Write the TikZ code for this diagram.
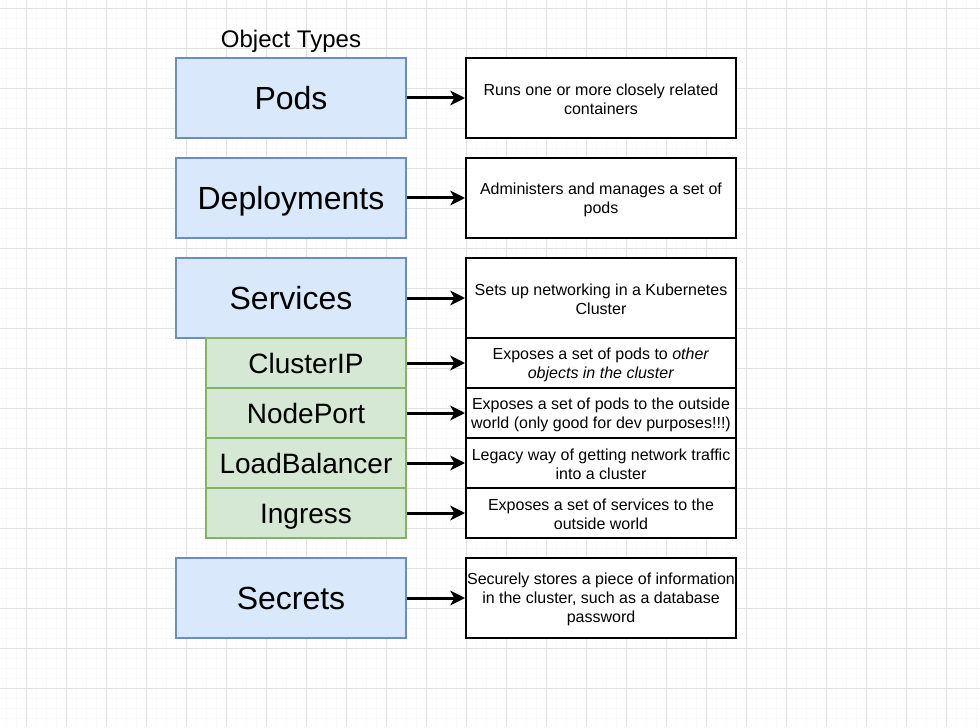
\documentclass[tikz,border=0pt]{standalone}
\usepackage{fontspec}
\setmainfont{Liberation Sans}
\usetikzlibrary{arrows.meta}
\definecolor{kindfill}{HTML}{DAE8FC}
\definecolor{kindline}{HTML}{6C8EBF}
\definecolor{subfill}{HTML}{D5E8D4}
\definecolor{subline}{HTML}{82B366}
\definecolor{gridminor}{HTML}{F9F9F9}
\definecolor{gridmajor}{HTML}{E2E2E2}
\tikzset{
	kind/.style={draw=kindline, fill=kindfill, line width=1.5pt, minimum width=172.5pt, minimum height=60pt, text height=17.2pt, text depth=0pt, font=\fontsize{24}{28}\selectfont},
	subkind/.style={draw=subline, fill=subfill, line width=1.5pt, minimum width=150pt, minimum height=37.5pt, text height=15pt, text depth=0pt, font=\fontsize{21}{25}\selectfont},
	note/.style={draw, fill=white, line width=1.5pt, minimum width=202.5pt, minimum height=60pt, inner xsep=1pt, align=center, font=\fontsize{12}{14.4}\selectfont},
	subnote/.style={note, minimum height=37.5pt},
	notetext/.style={yshift=-1.2pt},
	link/.style={line width=2.25pt, -{Stealth[length=11pt, width=11pt, inset=3pt]}}
}
\begin{document}
\begin{tikzpicture}[x=0.75pt, y=-0.75pt]
	\useasboundingbox (0,0) rectangle (980,727);
	\fill[white] (0,0) rectangle (980,727);
	
	% grid
	\foreach \x in {6.3,16.3,...,980}
		\draw[gridminor, line width=0.75pt] (\x,0) -- (\x,727);
	\foreach \y in {8.3,18.3,...,727}
		\draw[gridminor, line width=0.75pt] (0,\y) -- (980,\y);
	\foreach \x in {26.3,66.3,...,980}
		\draw[gridmajor, line width=0.75pt] (\x,0) -- (\x,727);
	\foreach \y in {8.3,48.3,...,727}
		\draw[gridmajor, line width=0.75pt] (0,\y) -- (980,\y);
	
	\node[text height=12.9pt, text depth=0pt, font=\fontsize{18}{21}\selectfont] (title) at (291,39) {Object Types};
	
	\node[kind] (pods) at (291,98) {Pods};
	\node[kind] (deployments) at (291,198) {Deployments};
	\node[kind] (services) at (291,298) {Services};
	\node[subkind] (clusterip) at (306,363) {ClusterIP};
	\node[subkind] (nodeport) at (306,413) {NodePort};
	\node[subkind] (loadbalancer) at (306,463) {LoadBalancer};
	\node[subkind] (ingress) at (306,513) {Ingress};
	\node[kind] (secrets) at (291,598) {Secrets};
	
	% boxes first, text on top a little lower
	\foreach \n/\y/\s in {pods/98/note, deployments/198/note, services/298/note, clusterip/363/subnote, nodeport/413/subnote, loadbalancer/463/subnote, ingress/513/subnote, secrets/598/note}
		\node[\s] (\n note) at (601,\y) {};
	\node[font=\fontsize{12}{14.4}\selectfont, align=center, notetext] (podstext) at (podsnote) {Runs one or more closely related\\containers};
	\node[font=\fontsize{12}{14.4}\selectfont, align=center, notetext] (deploymentstext) at (deploymentsnote) {Administers and manages a set of\\pods};
	\node[font=\fontsize{12}{14.4}\selectfont, align=center, notetext] (servicestext) at (servicesnote) {Sets up networking in a Kubernetes\\Cluster};
	\node[font=\fontsize{12}{14.4}\selectfont, align=center, notetext] (clusteriptext) at (clusteripnote) {Exposes a set of pods to \textit{other}\\\textit{objects in the cluster}};
	\node[font=\fontsize{12}{14.4}\selectfont, align=center, notetext] (nodeporttext) at (nodeportnote) {Exposes a set of pods to the outside\\world (only good for dev purposes!!!)};
	\node[font=\fontsize{12}{14.4}\selectfont, align=center, notetext] (loadbalancertext) at (loadbalancernote) {Legacy way of getting network traffic\\into a cluster};
	\node[font=\fontsize{12}{14.4}\selectfont, align=center, notetext] (ingresstext) at (ingressnote) {Exposes a set of services to the\\outside world};
	\node[font=\fontsize{12}{14.4}\selectfont, align=center, notetext] (secretstext) at (secretsnote) {Securely stores a piece of information\\in the cluster, such as a database\\password};
	
	\foreach \n in {pods, deployments, services, clusterip, nodeport, loadbalancer, ingress, secrets}
	{
		\draw[link] (\n) -- (\n note);
	}
\end{tikzpicture}
\end{document}
